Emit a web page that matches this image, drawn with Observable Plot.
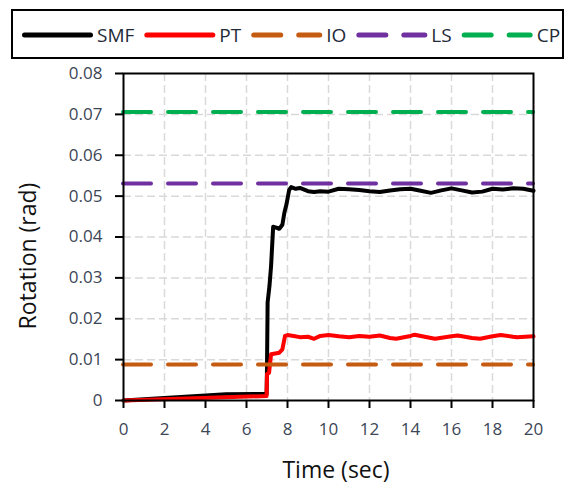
<!DOCTYPE html>
<html>
<head>
<meta charset="utf-8">
<script src="https://cdn.jsdelivr.net/npm/d3@7"></script>
<script src="https://cdn.jsdelivr.net/npm/@observablehq/plot@0.6"></script>
<style>
  body { margin: 0; background: white; }
  #wrap { width: 566px; height: 484px; position: relative; font-family: "Open Sans", sans-serif; }
  svg { display: block; }
</style>
</head>
<body>
<div id="wrap"></div>
<script>
// ---- data ----
const seriesNames = ["SMF", "PT", "IO", "LS", "CP"];
const seriesColors = ["#000000", "#ff0000", "#c55a11", "#7030a0", "#00b050"];
const seriesDashed = [false, false, true, true, true];

const smfTime = [0, 5, 6.98, 7.0, 7.03, 7.12, 7.2, 7.3, 7.45, 7.6, 7.75, 7.85, 7.95, 8.08, 8.18, 8.4, 8.6, 9.0, 9.3, 9.6, 10.0, 10.5, 11.0, 11.5, 12.0, 12.5, 13.0, 13.5, 14.0, 14.5, 15.0, 15.5, 16.0, 16.5, 17.0, 17.5, 18.0, 18.5, 19.0, 19.5, 20];
const smfValues = [0, 0.0015, 0.0016, 0.008, 0.024, 0.028, 0.033, 0.0425, 0.0423, 0.042, 0.043, 0.046, 0.048, 0.0515, 0.0522, 0.0518, 0.052, 0.0512, 0.051, 0.0512, 0.0511, 0.0518, 0.0517, 0.0515, 0.0512, 0.051, 0.0514, 0.0517, 0.0518, 0.0513, 0.0508, 0.0514, 0.0519, 0.0514, 0.0509, 0.0511, 0.0518, 0.0516, 0.0519, 0.0518, 0.0513];

const ptTime = [0, 6.98, 7.0, 7.1, 7.2, 7.4, 7.6, 7.75, 7.88, 8.0, 8.3, 8.6, 9.0, 9.3, 9.6, 10.0, 10.5, 11.0, 11.5, 12.0, 12.5, 13.0, 13.3, 14.0, 14.2, 15.0, 15.2, 16.0, 16.3, 17.0, 17.4, 18.0, 18.4, 19.0, 19.2, 20];
const ptValues = [0, 0.0011, 0.0065, 0.0068, 0.0113, 0.0115, 0.0117, 0.0125, 0.0158, 0.016, 0.0158, 0.0155, 0.0156, 0.0151, 0.0158, 0.016, 0.0157, 0.0155, 0.0158, 0.0156, 0.0159, 0.0153, 0.0151, 0.0158, 0.0161, 0.0153, 0.0151, 0.0157, 0.0159, 0.0153, 0.0151, 0.0157, 0.016, 0.0156, 0.0155, 0.0157];

const refNames = ["IO", "LS", "CP"];
const refValues = [0.0088, 0.0531, 0.0706];

const xTicks = [0, 2, 4, 6, 8, 10, 12, 14, 16, 18, 20];
const yTicks = [0, 0.01, 0.02, 0.03, 0.04, 0.05, 0.06, 0.07, 0.08];
const yTickLabels = ["0", "0.01", "0.02", "0.03", "0.04", "0.05", "0.06", "0.07", "0.08"];
const xTitle = "Time (sec)";
const yTitle = "Rotation (rad)";

// ---- build tables ----
const smfData = smfTime.map((t, i) => ({t, v: smfValues[i]}));
const ptData = ptTime.map((t, i) => ({t, v: ptValues[i]}));
const colorOf = n => seriesColors[seriesNames.indexOf(n)];

const wrap = d3.select("#wrap");

// ---- legend ----
const leg = wrap.append("svg").attr("width", 566).attr("height", 60);
leg.append("rect").attr("x", 12).attr("y", 10).attr("width", 551).attr("height", 48)
  .attr("fill", "white").attr("stroke", "black").attr("stroke-width", 2);
let lx = 22;
const ly = 35;
seriesNames.forEach((name, i) => {
  leg.append("line")
    .attr("x1", lx + 2.5).attr("x2", lx + 68.5).attr("y1", ly).attr("y2", ly)
    .attr("stroke", seriesColors[i]).attr("stroke-width", 5).attr("stroke-linecap", "round")
    .attr("stroke-dasharray", seriesDashed[i] ? "27,18" : null);
  const t = leg.append("text").attr("x", lx + 75).attr("y", ly)
    .attr("dominant-baseline", "central")
    .attr("font-family", "Open Sans").attr("font-size", 19).attr("fill", "#1f2a38")
    .text(name);
  lx += 75 + t.node().getComputedTextLength() + 10;
});

// ---- chart ----
const chart = Plot.plot({
  width: 566,
  height: 424,
  marginTop: 13,
  marginBottom: 84,
  marginLeft: 123,
  marginRight: 33,
  style: {fontFamily: "Open Sans", fontSize: "17px", background: "white", overflow: "visible"},
  x: {domain: [0, 20]},
  y: {domain: [0, 0.08]},
  marks: [
    Plot.gridX(xTicks.slice(1, -1), {stroke: "#d9d9d9", strokeOpacity: 1, strokeWidth: 1.5, strokeDasharray: "8,4"}),
    Plot.gridY(yTicks.slice(1, -1), {stroke: "#d9d9d9", strokeOpacity: 1, strokeWidth: 1.5, strokeDasharray: "8,4"}),
    Plot.line(smfData, {x: "t", y: "v", stroke: colorOf("SMF"), strokeWidth: 4, strokeLinejoin: "round", curve: "linear"}),
    Plot.line(ptData, {x: "t", y: "v", stroke: colorOf("PT"), strokeWidth: 4, strokeLinejoin: "round", curve: "linear"}),
    ...refNames.map((n, i) => Plot.ruleY([refValues[i]], {stroke: colorOf(n), strokeWidth: 4, strokeLinecap: "round", strokeDasharray: "28,17"})),
    Plot.frame({stroke: "black", strokeWidth: 2}),
    Plot.axisX(xTicks, {tickSize: 8, tickPadding: 14, strokeWidth: 2, stroke: "black", fill: "#3b4656", label: null}),
    Plot.axisY(yTicks, {tickSize: 8, tickPadding: 13, strokeWidth: 2, stroke: "black", fill: "#3b4656", label: null,
      tickFormat: d => yTickLabels[yTicks.indexOf(d)]})
  ]
});
wrap.node().appendChild(chart);

const svg = d3.select(chart);
svg.append("text")
  .attr("transform", "translate(27,196) rotate(-90)")
  .attr("text-anchor", "middle").attr("dominant-baseline", "central")
  .attr("font-family", "Open Sans").attr("font-size", 23).attr("fill", "#111")
  .text(yTitle);
svg.append("text")
  .attr("x", 336).attr("y", 409)
  .attr("text-anchor", "middle").attr("dominant-baseline", "central")
  .attr("font-family", "Open Sans").attr("font-size", 23).attr("fill", "#111")
  .text(xTitle);
</script>
</body>
</html>
